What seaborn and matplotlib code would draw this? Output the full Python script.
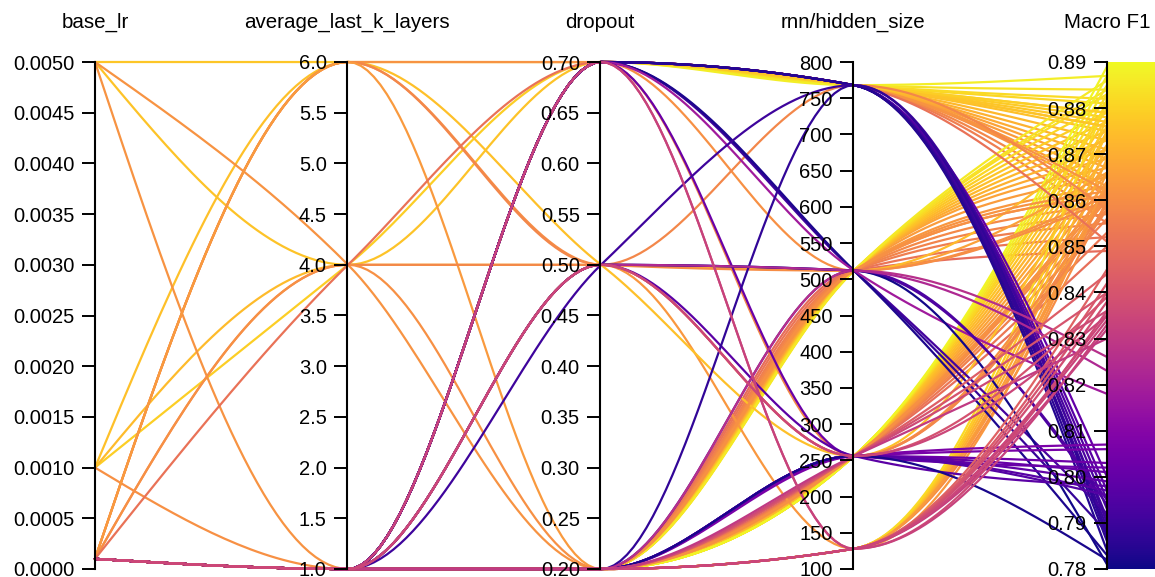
import numpy as np
import pandas as pd
import matplotlib
matplotlib.use("Agg")
import matplotlib.pyplot as plt
import seaborn as sns
from matplotlib.colors import Normalize
from matplotlib.cm import ScalarMappable

# ---------------- data (one entry per run, in drawing order) ----------------
axis_names = ["base_lr", "average_last_k_layers", "dropout", "rnn/hidden_size", "Macro F1"]
axis_lo = [0.0, 1.0, 0.2, 100.0, 0.78]
axis_hi = [0.005, 6.0, 0.7, 800.0, 0.89]

base_lr_ticks = [0.0, 0.0005, 0.001, 0.0015, 0.002, 0.0025, 0.003, 0.0035, 0.004, 0.0045, 0.005]
avg_k_ticks = [1.0, 1.5, 2.0, 2.5, 3.0, 3.5, 4.0, 4.5, 5.0, 5.5, 6.0]
dropout_ticks = [0.20, 0.25, 0.30, 0.35, 0.40, 0.45, 0.50, 0.55, 0.60, 0.65, 0.70]
hidden_ticks = [100, 150, 200, 250, 300, 350, 400, 450, 500, 550, 600, 650, 700, 750, 800]
f1_ticks = [0.78, 0.79, 0.80, 0.81, 0.82, 0.83, 0.84, 0.85, 0.86, 0.87, 0.88, 0.89]

base_lr = (
    [0.0001] * 17      # dropout .7 -> 768 high F1
    + [0.0001] * 19    # dropout .2 -> 512
    + [0.0001] * 20    # dropout .2 -> 256
    + [0.0001] * 8     # dropout .2 -> 128
    + [0.0001] * 5     # misc orange
    + [0.005, 0.001, 0.001, 0.005, 0.001, 0.005, 0.005, 0.001,
       0.0001, 0.0001, 0.0001, 0.0001, 0.0001, 0.0001, 0.0001]
    + [0.0001] * 30    # purple runs
    + [0.0001] * 15    # pink runs
)
avg_k = (
    [1] * 17 + [1] * 19 + [1] * 20 + [1] * 8 + [1] * 5
    + [6, 4, 4, 4, 6, 4, 1, 1, 6, 6, 6, 6, 4, 4, 4]
    + [1] * 30 + [1] * 15
)
dropout = (
    [0.7] * 17 + [0.2] * 19 + [0.2] * 20 + [0.2] * 8
    + [0.7, 0.7, 0.5, 0.5, 0.5]
    + [0.7, 0.7, 0.5, 0.7, 0.5, 0.2, 0.2, 0.2, 0.7, 0.5, 0.5, 0.2, 0.5, 0.2, 0.7]
    + [0.7] * 9 + [0.7] * 4 + [0.7] + [0.5] + [0.5] * 2 + [0.5] + [0.2] + [0.2] + [0.2] * 8 + [0.2, 0.5]
    + [0.2] * 7 + [0.2] * 4 + [0.7] * 2 + [0.5] * 2
)
hidden = (
    [768] * 17 + [512] * 19 + [256] * 20 + [128] * 8
    + [512, 256, 512, 128, 256]
    + [768, 768, 512, 768, 256, 256, 512, 256, 768, 512, 768, 128, 256, 512, 768]
    + [768] * 9 + [512] * 4 + [256] + [768] + [512] * 2 + [256] + [768] + [512] + [256] * 8 + [512, 512]
    + [128] * 7 + [256] * 4 + [128] * 2 + [256] * 2
)
macro_f1 = (
    [0.855, 0.858, 0.861, 0.863, 0.865, 0.867, 0.869, 0.871, 0.873, 0.875, 0.876,
     0.878, 0.879, 0.881, 0.882, 0.884, 0.887]
    + [0.849, 0.852, 0.855, 0.857, 0.859, 0.861, 0.863, 0.865, 0.867, 0.869, 0.871,
       0.873, 0.875, 0.877, 0.879, 0.881, 0.883, 0.884, 0.886]
    + [0.850, 0.853, 0.856, 0.858, 0.860, 0.862, 0.864, 0.866, 0.868, 0.870, 0.872,
       0.874, 0.876, 0.878, 0.880, 0.881, 0.883, 0.885, 0.887, 0.889]
    + [0.860, 0.863, 0.866, 0.869, 0.872, 0.875, 0.878, 0.882]
    + [0.861, 0.859, 0.866, 0.863, 0.861]
    + [0.877, 0.879, 0.874, 0.876, 0.875, 0.862, 0.862, 0.861,
       0.862, 0.860, 0.858, 0.864, 0.858, 0.861, 0.851]
    + [0.800, 0.797, 0.795, 0.793, 0.791, 0.789, 0.788, 0.786, 0.784]
    + [0.792, 0.788, 0.783, 0.818]
    + [0.802]
    + [0.790]
    + [0.795, 0.781]
    + [0.798]
    + [0.787]
    + [0.794]
    + [0.807, 0.806, 0.803, 0.801, 0.799, 0.797, 0.796, 0.782]
    + [0.826, 0.823]
    + [0.845, 0.842, 0.840, 0.838, 0.834, 0.832, 0.835]
    + [0.844, 0.840, 0.836, 0.830]
    + [0.836, 0.833]
    + [0.839, 0.835]
)

# ---------------- monotone-x cubic (as used by the web chart) ----------------
def monotone_curve(xs, ys, n=40):
    xs = np.asarray(xs, float)
    ys = np.asarray(ys, float)
    m = len(xs)
    h = np.diff(xs)
    s = np.diff(ys) / h
    t = np.zeros(m)
    for i in range(1, m - 1):
        s0, s1 = s[i - 1], s[i]
        h0, h1 = h[i - 1], h[i]
        p = (s0 * h1 + s1 * h0) / (h0 + h1)
        sg0 = -1.0 if s0 < 0 else 1.0
        sg1 = -1.0 if s1 < 0 else 1.0
        t[i] = (sg0 + sg1) * min(abs(s0), abs(s1), 0.5 * abs(p))
    t[0] = (3 * s[0] - t[1]) / 2
    t[-1] = (3 * s[-1] - t[-2]) / 2
    px, py = [], []
    u = np.linspace(0, 1, n)
    h00 = 2 * u**3 - 3 * u**2 + 1
    h10 = u**3 - 2 * u**2 + u
    h01 = -2 * u**3 + 3 * u**2
    h11 = u**3 - u**2
    for i in range(m - 1):
        xx = xs[i] + u * h[i]
        yy = h00 * ys[i] + h10 * h[i] * t[i] + h01 * ys[i + 1] + h11 * h[i] * t[i + 1]
        if i > 0:
            xx, yy = xx[1:], yy[1:]
        px.append(xx)
        py.append(yy)
    return np.concatenate(px), np.concatenate(py)


# ---------------- figure ----------------
sns.set_theme(style="white")
plt.rcParams["font.family"] = ["Liberation Sans", "DejaVu Sans"]

W, H = 1155, 577
fig = plt.figure(figsize=(W / 100, H / 100), dpi=100)

ax_x = [95, 347, 600, 853, 1107]
y_top, y_bot = 62, 569
fy0 = 1 - y_bot / H
fh = (y_bot - y_top) / H

main = fig.add_axes([ax_x[0] / W, fy0, (ax_x[-1] - ax_x[0]) / W, fh])

cmap = plt.get_cmap("plasma")
norm = Normalize(vmin=0.78, vmax=0.89)

cols = [base_lr, avg_k, dropout, hidden, macro_f1]
n_runs = len(macro_f1)
for r in range(n_runs):
    vals = [c[r] for c in cols]
    yn = [(v - lo) / (hi - lo) for v, lo, hi in zip(vals, axis_lo, axis_hi)]
    cx, cy = monotone_curve(np.arange(5), yn)
    df = pd.DataFrame({"x": cx, "y": cy})
    sns.lineplot(data=df, x="x", y="y", ax=main, sort=False, estimator=None,
                 color=cmap(norm(macro_f1[r])), lw=1.6, legend=False)
for ln in main.lines:
    ln.set_clip_on(False)
main.set_xlim(0, 4)
main.set_ylim(0, 1)
main.axis("off")

# colour bar for Macro F1
cax = fig.add_axes([ax_x[-1] / W, fy0, (W - ax_x[-1]) / W, fh])
cb = fig.colorbar(ScalarMappable(norm=norm, cmap=cmap), cax=cax)
cb.outline.set_visible(False)
cax.set_yticks([])

ticks_all = [base_lr_ticks, avg_k_ticks, dropout_ticks, hidden_ticks, f1_ticks]
fmts = ["{:.4f}", "{:.1f}", "{:.2f}", "{:.0f}", "{:.2f}"]
for i in range(5):
    a = fig.add_axes([ax_x[i] / W, fy0, 1e-5, fh])
    a.patch.set_visible(False)
    a.set_ylim(axis_lo[i], axis_hi[i])
    a.set_xticks([])
    for sp in ["top", "right", "bottom"]:
        a.spines[sp].set_visible(False)
    a.spines["left"].set_color("black")
    a.spines["left"].set_linewidth(1.5)
    a.set_yticks(ticks_all[i])
    a.set_yticklabels([fmts[i].format(v) for v in ticks_all[i]])
    a.tick_params(axis="y", left=True, length=9.5, width=1.4, color="black",
                  pad=5.0, labelsize=14.5, labelcolor="black")
    fig.text(ax_x[i] / W, 1 - 22 / H, axis_names[i], ha="center", va="center",
             fontsize=14.8, color="black")

fig.savefig("out.png", dpi=100)
